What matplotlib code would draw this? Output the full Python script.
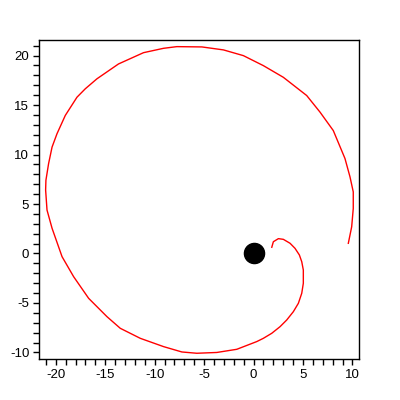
import numpy as np
import matplotlib
matplotlib.use("Agg")
import matplotlib.pyplot as plt
from matplotlib.ticker import MultipleLocator

plt.rcParams['axes.unicode_minus'] = False

# orbit path
x = [1.84, 2.0, 2.51, 3.01, 3.69, 4.19, 4.63, 4.87, 5.03, 5.03, 4.87, 4.53,
     4.02, 3.35, 2.68, 1.84, 0.99, 0.32, -1.7, -3.72, -5.74, -7.25, -9.1,
     -11.46, -13.48, -14.83, -16.68, -18.2, -19.37, -20.38, -20.89, -21.03,
     -21.0, -20.73, -20.38, -19.88, -19.04, -17.86, -17.02, -15.84, -13.66,
     -11.13, -9.11, -7.76, -5.23, -3.05, -1.03, 0.99, 3.01, 5.37, 6.72, 8.06,
     9.24, 9.75, 10.08, 10.08, 9.92, 9.58]
y = [0.63, 1.19, 1.5, 1.43, 1.03, 0.52, -0.15, -0.83, -1.67, -3.01, -4.02,
     -5.03, -5.88, -6.72, -7.39, -8.06, -8.57, -8.9, -9.68, -10.0, -10.08,
     -9.95, -9.41, -8.57, -7.56, -6.38, -4.53, -2.34, -0.32, 2.55, 4.39,
     6.41, 7.4, 9.08, 10.75, 12.1, 13.95, 15.79, 16.64, 17.65, 19.15, 20.29,
     20.73, 20.9, 20.87, 20.57, 19.99, 18.98, 17.8, 15.96, 14.28, 12.42, 9.6,
     7.74, 6.22, 4.55, 2.7, 1.03]

sun_x = [0]
sun_y = [0]

xticks = [-20, -15, -10, -5, 0, 5, 10]
yticks = [-10, -5, 0, 5, 10, 15, 20]

fig = plt.figure(figsize=(4, 4), dpi=100)
ax = fig.add_axes([0.0975, 0.1025, 0.8, 0.7975])

ax.plot(x, y, color="red", linewidth=1)
ax.plot(sun_x, sun_y, "o", color="black", markersize=14.5)

ax.set_xlim(-21.7, 10.66)
ax.set_ylim(-10.66, 21.57)
ax.set_xticks(xticks)
ax.set_yticks(yticks)
ax.xaxis.set_minor_locator(MultipleLocator(1))
ax.yaxis.set_minor_locator(MultipleLocator(1))
ax.tick_params(which="both", direction="out", length=4, width=1,
               labelsize=9.5, pad=3)
for lab in ax.get_xticklabels() + ax.get_yticklabels():
    lab.set_family("Liberation Sans")
for s in ax.spines.values():
    s.set_linewidth(1)

plt.savefig("out.png", dpi=100)
